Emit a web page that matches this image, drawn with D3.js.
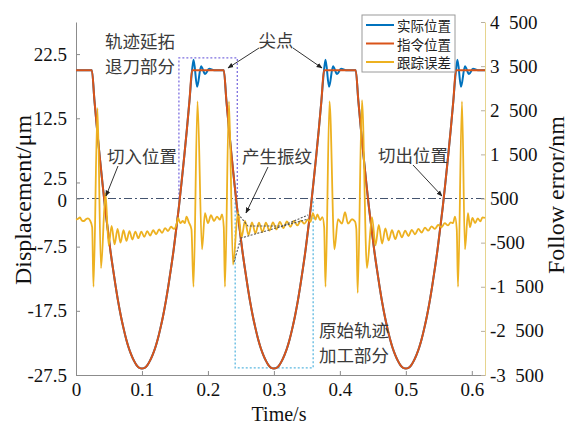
<!DOCTYPE html>
<html><head><meta charset="utf-8">
<script src="https://cdn.jsdelivr.net/npm/d3@7"></script>
<style>
body{margin:0;background:#fff;}
svg{display:block;}
</style></head><body>
<svg id="c" width="570" height="424"></svg>
<script>
// ---------- data ----------
const cmdTime = [0.000,
 0.024,0.028,0.032,0.036,0.040,0.044,0.048,0.052,0.056,0.060,0.064,0.068,0.072,0.076,0.080,0.084,0.088,0.092,0.096,0.100,
 0.104,0.108,0.112,0.116,0.120,0.124,0.128,0.132,0.136,0.140,0.144,0.148,0.152,0.156,0.160,0.164,0.168,0.172,0.176,
 0.224,0.228,0.232,0.236,0.240,0.244,0.248,0.252,0.256,0.260,0.264,0.268,0.272,0.276,0.280,0.284,0.288,0.292,0.296,0.300,
 0.304,0.308,0.312,0.316,0.320,0.324,0.328,0.332,0.336,0.340,0.344,0.348,0.352,0.356,0.360,0.364,0.368,0.372,0.376,
 0.424,0.428,0.432,0.436,0.440,0.444,0.448,0.452,0.456,0.460,0.464,0.468,0.472,0.476,0.480,0.484,0.488,0.492,0.496,0.500,
 0.504,0.508,0.512,0.516,0.520,0.524,0.528,0.532,0.536,0.540,0.544,0.548,0.552,0.556,0.560,0.564,0.568,0.572,0.576,
 0.620];
const cmdPos = [20.0,
 20.0,15.2,10.7,6.5,2.5,-1.3,-4.7,-8.0,-10.9,-13.6,-16.1,-18.3,-20.2,-21.9,-23.3,-24.4,-25.3,-26.0,-26.4,-26.5,
 -26.4,-26.0,-25.3,-24.4,-23.3,-21.9,-20.2,-18.3,-16.1,-13.6,-10.9,-8.0,-4.7,-1.3,2.5,6.5,10.7,15.2,20.0,
 20.0,15.2,10.7,6.5,2.5,-1.3,-4.7,-8.0,-10.9,-13.6,-16.1,-18.3,-20.2,-21.9,-23.3,-24.4,-25.3,-26.0,-26.4,-26.5,
 -26.4,-26.0,-25.3,-24.4,-23.3,-21.9,-20.2,-18.3,-16.1,-13.6,-10.9,-8.0,-4.7,-1.3,2.5,6.5,10.7,15.2,20.0,
 20.0,15.2,10.7,6.5,2.5,-1.3,-4.7,-8.0,-10.9,-13.6,-16.1,-18.3,-20.2,-21.9,-23.3,-24.4,-25.3,-26.0,-26.4,-26.5,
 -26.4,-26.0,-25.3,-24.4,-23.3,-21.9,-20.2,-18.3,-16.1,-13.6,-10.9,-8.0,-4.7,-1.3,2.5,6.5,10.7,15.2,20.0,
 20.0];

const actTime = [0.000,
 0.024,0.028,0.032,0.036,0.040,0.044,0.048,0.052,0.056,0.060,0.064,0.068,0.072,0.076,0.080,0.084,0.088,0.092,0.096,0.100,
 0.104,0.108,0.112,0.116,0.120,0.124,0.128,0.132,0.136,0.140,0.144,0.148,0.152,0.156,0.160,0.164,0.168,0.172,0.176,
 0.1783,0.1836,0.1896,0.1957,0.2018,0.2093,
 0.224,0.228,0.232,0.236,0.240,0.244,0.248,0.252,0.256,0.260,0.264,0.268,0.272,0.276,0.280,0.284,0.288,0.292,0.296,0.300,
 0.304,0.308,0.312,0.316,0.320,0.324,0.328,0.332,0.336,0.340,0.344,0.348,0.352,0.356,0.360,0.364,0.368,0.372,0.376,
 0.3783,0.3836,0.3896,0.3957,0.4018,0.4093,
 0.424,0.428,0.432,0.436,0.440,0.444,0.448,0.452,0.456,0.460,0.464,0.468,0.472,0.476,0.480,0.484,0.488,0.492,0.496,0.500,
 0.504,0.508,0.512,0.516,0.520,0.524,0.528,0.532,0.536,0.540,0.544,0.548,0.552,0.556,0.560,0.564,0.568,0.572,0.576,
 0.5783,0.5836,0.5896,0.5957,0.6018,0.6093,
 0.620];
const actPos = [20.0,
 20.0,15.2,10.7,6.5,2.5,-1.3,-4.7,-8.0,-10.9,-13.6,-16.1,-18.3,-20.2,-21.9,-23.3,-24.4,-25.3,-26.0,-26.4,-26.5,
 -26.4,-26.0,-25.3,-24.4,-23.3,-21.9,-20.2,-18.3,-16.1,-13.6,-10.9,-8.0,-4.7,-1.3,2.5,6.5,10.7,15.2,20.0,
 21.6,17.4,20.6,19.4,20.2,20.0,
 20.0,15.2,10.7,6.5,2.5,-1.3,-4.7,-8.0,-10.9,-13.6,-16.1,-18.3,-20.2,-21.9,-23.3,-24.4,-25.3,-26.0,-26.4,-26.5,
 -26.4,-26.0,-25.3,-24.4,-23.3,-21.9,-20.2,-18.3,-16.1,-13.6,-10.9,-8.0,-4.7,-1.3,2.5,6.5,10.7,15.2,20.0,
 21.6,17.4,20.6,19.4,20.2,20.0,
 20.0,15.2,10.7,6.5,2.5,-1.3,-4.7,-8.0,-10.9,-13.6,-16.1,-18.3,-20.2,-21.9,-23.3,-24.4,-25.3,-26.0,-26.4,-26.5,
 -26.4,-26.0,-25.3,-24.4,-23.3,-21.9,-20.2,-18.3,-16.1,-13.6,-10.9,-8.0,-4.7,-1.3,2.5,6.5,10.7,15.2,20.0,
 21.6,17.4,20.6,19.4,20.2,20.0,
 20.0];

const errTime = [0.000,0.003,0.006,0.009,0.012,0.015,0.018,0.021,0.0245,
 0.0265,0.0326,0.0379,0.0447,0.0495,0.0540,0.0585,0.0630,0.0675,0.0720,0.0765,0.0810,0.0855,0.0900,0.0945,0.0990,
 0.1035,0.1080,0.1125,0.1170,0.1215,0.1260,0.1305,0.1350,0.1395,0.1440,0.1485,0.1525,0.1548,0.1580,0.1620,0.1650,
 0.1675,0.1710,0.1750,
 0.1781,0.1842,0.1910,0.1955,0.2000,0.2046,0.2092,0.2137,0.2183,0.2213,0.2240,
 0.2258,0.2319,0.2380,0.2456,0.2510,0.2562,0.2615,0.2668,0.2720,0.2773,0.2826,0.2879,0.2932,0.2985,0.3038,0.3091,
 0.3144,0.3197,0.3250,0.3303,0.3356,0.3409,0.3462,0.3515,0.3555,0.3590,0.3630,0.3660,0.3700,0.3735,0.3762,
 0.3782,0.3843,0.3918,0.3972,0.4032,0.4078,0.4123,0.4184,0.4229,0.4250,
 0.4270,0.4335,0.4411,0.4487,0.4540,0.4590,0.4640,0.4690,0.4740,0.4790,0.4840,0.4890,0.4940,0.4990,0.5040,0.5090,
 0.5140,0.5190,0.5240,0.5290,0.5340,0.5390,0.5440,0.5490,0.5540,0.5590,0.5640,0.5680,0.5715,0.5745,0.5772,
 0.5791,0.5851,0.5896,0.5942,0.5972,0.6010,0.6050,0.6090,0.6130,0.6160,0.6200];
const errVal = [20,40,70,0,-10,30,50,10,-150,
 -1500,2550,-1080,620,-560,-120,-540,-190,-500,-220,-460,-240,-430,-250,-400,-250,
 -370,-240,-340,-220,-310,-200,-280,-170,-240,-140,-190,-80,60,-60,-10,-60,
 90,-40,-200,
 -1500,2700,-650,170,-60,120,-10,90,20,140,-150,
 -1500,2700,-1000,190,-380,-10,-330,-40,-290,-50,-260,-50,-230,-40,-200,-30,
 -170,-20,-140,-10,-110,0,-70,20,-30,170,20,140,10,80,-150,
 -1500,2700,-650,30,-70,190,-70,30,-20,-200,
 -1640,2730,-1080,80,-560,-100,-520,-180,-450,-220,-420,-230,-380,-230,-350,-210,
 -310,-190,-270,-160,-230,-130,-190,-100,-150,-60,-110,-40,-60,90,-200,
 -1500,2700,-650,170,-150,60,-60,50,-20,70,60];

const seriesNames = ["实际位置","指令位置","跟踪误差"];
const xTicks = [0,0.1,0.2,0.3,0.4,0.5,0.6];
const xTickLabels = ["0","0.1","0.2","0.3","0.4","0.5","0.6"];
const yLeftTicks = [22.5,12.5,2.5,0,-7.5,-17.5,-27.5];
const yLeftTickLabels = ["22.5","12.5","2.5","0","-7.5","-17.5","-27.5"];
const yRightTicks = [4500,3500,2500,1500,500,-500,-1500,-2500,-3500];
const yRightTickLabels = ["4\u2002500","3\u2002500","2\u2002500","1\u2002500","500","-500","-1\u2002500","-2\u2002500","-3\u2002500"];

// ---------- layout ----------
const L = 76, R = 485, T = 22, B = 375;
const colors = ["#0072BD","#D95319","#EDB120"];
const serif = "\"Liberation Serif\", \"DejaVu Serif\", serif";
const cjk = "\"Noto Sans CJK SC\", \"Noto Sans CJK JP\", sans-serif";

const svg = d3.select("#c");
const x = d3.scaleLinear([0,0.62],[L,R]);
const yL = d3.scaleLinear([-27.5,27.5],[B,T]);
const yR = d3.scaleLinear([-3500,4500],[B,T]);

// dash-dot zero line and annotation boxes
const g0 = svg.append("g");
g0.append("line").attr("x1",L).attr("x2",R).attr("y1",yL(0)).attr("y2",yL(0))
  .attr("stroke","#44546f").attr("stroke-width",1.2).attr("stroke-dasharray","8,3,2,3");
g0.append("path").attr("d",`M${x(0.156)},${yL(0)}V${yL(21.9)}H${x(0.2445)}V${yL(0)}`)
  .attr("fill","none").attr("stroke","#7d6fe0").attr("stroke-width",1.3).attr("stroke-dasharray","2,2");
g0.append("path").attr("d",`M${x(0.2413)},${yL(0)}V${yL(-26.4)}H${x(0.3595)}V${yL(0)}`)
  .attr("fill","none").attr("stroke","#5cb8e0").attr("stroke-width",1.3).attr("stroke-dasharray","2,2");

// axes
function styleAxis(g, col){
  g.attr("font-family",serif).attr("font-size",19);
  g.select(".domain").attr("stroke",col).attr("stroke-width",1);
  g.selectAll(".tick line").attr("stroke",col);
  g.selectAll(".tick text").attr("fill","#111").style("font-family",serif).style("font-size","19px");
}
const ax = svg.append("g").attr("transform",`translate(0,${B})`)
  .call(d3.axisBottom(x).tickValues(xTicks).tickFormat((d,i)=>xTickLabels[i]).tickSizeInner(-4).tickSizeOuter(0).tickPadding(8));
styleAxis(ax,"#8c8c8c");
const ayl = svg.append("g").attr("transform",`translate(${L},0)`)
  .call(d3.axisLeft(yL).tickValues(yLeftTicks).tickFormat((d,i)=>yLeftTickLabels[i]).tickSizeInner(-4).tickSizeOuter(0).tickPadding(9));
styleAxis(ayl,"#8c8c8c");
// the "2.5" and "0" labels sit very close in the reference; nudge them apart slightly
ayl.selectAll(".tick text").attr("dy",(d)=> d===2.5 ? "0.1em" : (d===0 ? "0.42em" : "0.32em"));
const ayr = svg.append("g").attr("transform",`translate(${R},0)`)
  .call(d3.axisRight(yR).tickValues(yRightTicks).tickFormat((d,i)=>yRightTickLabels[i]).tickSizeInner(-4).tickSizeOuter(0).tickPadding(5));
styleAxis(ayr,"#e6d48e");
ayr.selectAll(".tick line").attr("stroke","#b8b0a0");

// axis titles
svg.append("text").attr("x",279).attr("y",421).attr("text-anchor","middle")
  .style("font-family",serif).style("font-size","20px").attr("fill","#111").text("Time/s");
svg.append("text").attr("transform","translate(31,200) rotate(-90)").attr("text-anchor","middle")
  .style("font-family",serif).style("font-size","24px").attr("fill","#111").text("Displacement/μm");
svg.append("text").attr("transform","translate(564,195) rotate(-90)").attr("text-anchor","middle")
  .style("font-family",serif).style("font-size","24px").attr("fill","#111").text("Follow error/nm");

// series
const lineL = d3.line().x(d=>x(d[0])).y(d=>yL(d[1])).curve(d3.curveMonotoneX);
const lineR = d3.line().x(d=>x(d[0])).y(d=>yR(d[1])).curve(d3.curveMonotoneX);
const act = actTime.map((t,i)=>[t,actPos[i]]);
const cmd = cmdTime.map((t,i)=>[t,cmdPos[i]]);
const err = errTime.map((t,i)=>[t,errVal[i]]);
svg.append("path").attr("d",lineL(act)).attr("fill","none").attr("stroke",colors[0]).attr("stroke-width",2);
svg.append("path").attr("d",lineL(cmd)).attr("fill","none").attr("stroke",colors[1]).attr("stroke-width",2);
svg.append("path").attr("d",lineR(err)).attr("fill","none").attr("stroke",colors[2]).attr("stroke-width",1.8);

// envelope annotation (gray dotted)
const envUpper = [[0.2456,149],[0.2607,-123],[0.3123,-123],[0.3517,126]];
const envLower = [[0.2395,-939],[0.2501,-395],[0.3517,35]];
const lin = d3.line().x(d=>x(d[0])).y(d=>yR(d[1]));
[envUpper,envLower].forEach(e=>svg.append("path").attr("d",lin(e)).attr("fill","none")
  .attr("stroke","#555").attr("stroke-width",1.1).attr("stroke-dasharray","2,1.5"));

// text annotations with arrows
const defs = svg.append("defs");
defs.append("marker").attr("id","ah").attr("viewBox","0 0 10 10").attr("refX",9).attr("refY",5)
  .attr("markerWidth",6).attr("markerHeight",6).attr("orient","auto")
  .append("path").attr("d","M0,1L10,5L0,9Z").attr("fill","#222");
function label(txt,cx,cy){
  svg.append("text").attr("x",cx).attr("y",cy).attr("text-anchor","middle").attr("dominant-baseline","central")
    .style("font-family",cjk).style("font-size","17.5px").attr("fill","#3a3a3a").text(txt);
}
function arrow(x1,y1,x2,y2){
  svg.append("line").attr("x1",x1).attr("y1",y1).attr("x2",x2).attr("y2",y2)
    .attr("stroke","#333").attr("stroke-width",1).attr("marker-end","url(#ah)");
}
label("轨迹延拓",140,40); label("退刀部分",140,65);
label("尖点",276,39);
arrow(259,48,228,68); arrow(293,48,322,68);
label("切入位置",142,155); arrow(118,166,106,196);
label("产生振纹",277,155); arrow(268,167,246,213);
label("切出位置",413,154); arrow(413,165,442,196);
label("原始轨迹",354,329); label("加工部分",354,354);

// legend
const lg = svg.append("g");
lg.append("rect").attr("x",362).attr("y",15).attr("width",93).attr("height",57)
  .attr("fill","#fff").attr("stroke","#9a9a9a").attr("stroke-width",1);
seriesNames.forEach((n,i)=>{
  const yy = 25 + i*18.5;
  lg.append("line").attr("x1",366).attr("x2",394).attr("y1",yy).attr("y2",yy)
    .attr("stroke",colors[i]).attr("stroke-width",2);
  lg.append("text").attr("x",397).attr("y",yy).attr("dominant-baseline","central")
    .style("font-family",cjk).style("font-size","13.5px").attr("fill","#222").text(n);
});
</script>
</body></html>
